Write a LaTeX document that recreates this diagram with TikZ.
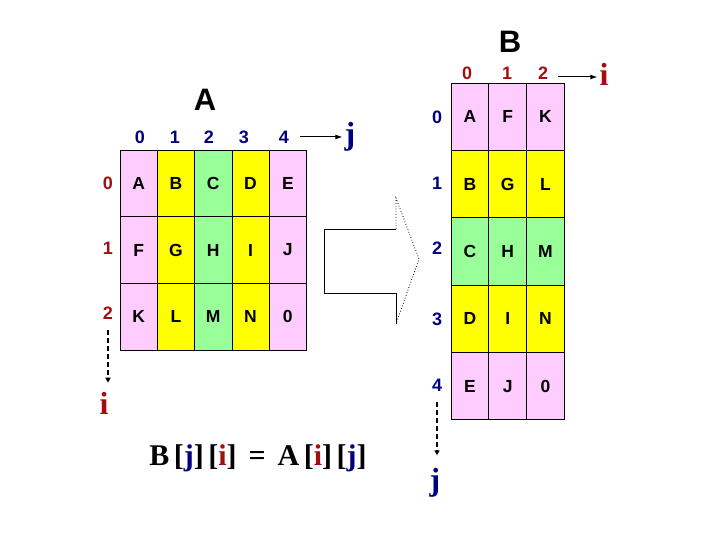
\documentclass[tikz,border=0pt]{standalone}
\usepackage{fontspec}
\setmainfont{Liberation Sans}
\newfontfamily\timesfont{Liberation Serif}
\newfontfamily\rulefont{Liberation Serif}[LetterSpace=15]
\usetikzlibrary{arrows.meta,positioning}

\definecolor{cellpink}{HTML}{FFCCFF}
\definecolor{cellyellow}{HTML}{FFFF00}
\definecolor{cellgreen}{HTML}{99FF99}
\definecolor{idxblue}{HTML}{000080}
\definecolor{idxred}{HTML}{A01010}
\colorlet{band0}{cellpink}
\colorlet{band1}{cellyellow}
\colorlet{band2}{cellgreen}
\colorlet{band3}{cellyellow}
\colorlet{band4}{cellpink}

\begin{document}
\begin{tikzpicture}[
    x=1pt, y=-1pt,
    every node/.style={font=\fontsize{17.5}{17.5}\selectfont\bfseries, inner sep=0pt},
    cellA/.style={draw, line width=0.8pt, minimum width=37.3pt, minimum height=66.7pt},
    cellB/.style={draw, line width=0.8pt, minimum width=37.8pt, minimum height=67.3pt},
    colidx/.style={font=\fontsize{18}{18}\selectfont\bfseries, text=idxblue},
    rowidx/.style={font=\fontsize{18}{18}\selectfont\bfseries, text=idxred},
    title/.style={font=\fontsize{31}{31}\selectfont\bfseries},
    var/.style={font=\fontsize{32}{32}\selectfont\timesfont\bfseries},
    axis/.style={-{Latex[length=7pt,width=5pt]}, line width=1pt},
    walk/.style={-{Triangle[length=5pt,width=5pt]}, line width=1.6pt, dash pattern=on 5pt off 3pt}
]
\useasboundingbox (0,0) rectangle (720,540);

% matrix A, one colour per column
\node[title] (titleA) at (205,100) {A};
\foreach \row [count=\r from 0] in {{A,B,C,D,E},{F,G,H,I,J},{K,L,M,N,0}}
  \foreach \t [count=\c from 0] in \row
    \node[cellA, fill=band\c] (a-\r-\c) at ({120+37.3*(\c+0.5)},{150+66.7*(\r+0.5)}) {\t};
\foreach \c/\x in {0/140,1/175,2/209,3/244,4/284}
  \node[colidx] (acol-\c) at (\x,137) {\c};
\foreach \r/\y in {0/183,1/248,2/313}
  \node[rowidx] (arow-\r) at (108,\y) {\r};
\node[var, text=idxblue] (jA) at (350,137) {j};
\node[var, text=idxred] (iA) at (104,403) {i};
\draw[axis, shorten >=2pt] ([xshift=11pt]acol-4.east) -- (jA.west);
\draw[walk, shorten >=9pt] ([yshift=-11pt]arow-2.south) -- (arow-2 |- iA.north);

% matrix B, one colour per row
\node[title] (titleB) at (510,42) {B};
\foreach \row [count=\r from 0] in {{A,F,K},{B,G,L},{C,H,M},{D,I,N},{E,J,0}}
  \foreach \t [count=\c from 0] in \row
    \node[cellB, fill=band\r] (b-\r-\c) at ({451+37.8*(\c+0.5)},{83.3+67.3*(\r+0.5)}) {\t};
\foreach \c/\x in {0/467,1/507,2/543}
  \node[rowidx] (bcol-\c) at (\x,73) {\c};
\foreach \r/\y in {0/117,1/183,2/248,3/319,4/385}
  \node[colidx] (brow-\r) at (437,\y) {\r};
\node[var, text=idxred] (iB) at (604,74) {i};
\node[var, text=idxblue] (jB) at (435,483) {j};
\draw[axis, shorten >=2pt] ([xshift=10pt,yshift=-4pt]bcol-2.east) -- ([yshift=-3pt]iB.west);
\draw[walk, shorten >=13pt] ([yshift=-11pt]brow-4.south) -- (brow-4 |- jB.north);

% hollow arrow between the two
\draw[line width=0.8pt] (396,229) -- (324,229) -- (324,293) -- (396,293) -- (396,324);
\draw[line width=0.8pt, dotted] (396,229) -- (396,198) -- (419,259) -- (396,324);

\node[font=\fontsize{30}{30}\selectfont\rulefont\bfseries] (rule) at (258,458)
  {B[\textcolor{idxblue}{j}][\textcolor{idxred}{i}] = A[\textcolor{idxred}{i}][\textcolor{idxblue}{j}]};
\end{tikzpicture}
\end{document}
